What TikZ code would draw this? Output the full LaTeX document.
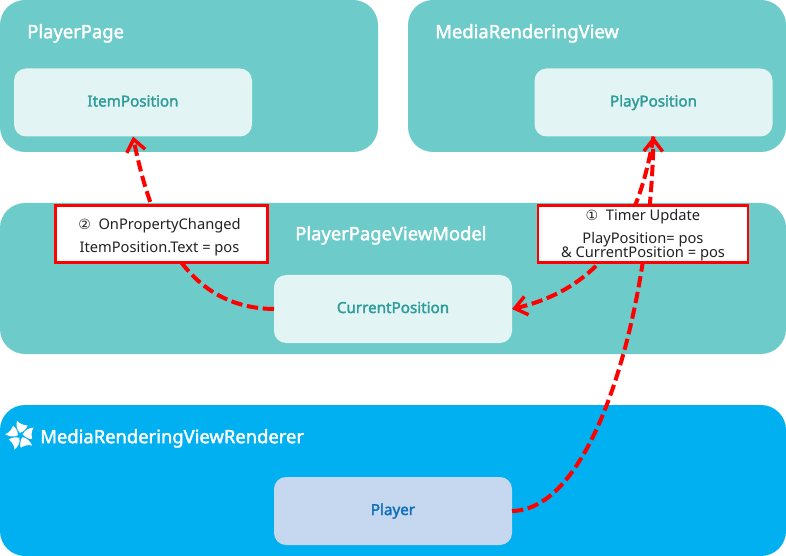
\documentclass[tikz,border=0pt]{standalone}
\usepackage{fontspec}
\setmainfont{Noto Sans}
\newfontfamily\symfont{DejaVu Sans}
\newfontfamily\heavy[FakeBold=2]{Noto Sans}
\usetikzlibrary{arrows.meta}
\definecolor{tealbg}{HTML}{6DCBCA}
\definecolor{lightbox}{HTML}{E2F4F4}
\definecolor{tealtxt}{HTML}{2E9C9A}
\definecolor{bluebg}{HTML}{00B0F0}
\definecolor{playerbox}{HTML}{C5D8F0}
\definecolor{playertxt}{HTML}{0F6FB8}
\definecolor{note}{HTML}{222222}
\tikzset{
  panel/.style={fill=#1,rounded corners=18.75pt,inner sep=0pt,outer sep=0pt},
  innerbox/.style={fill=#1,rounded corners=9pt,inner sep=0pt,outer sep=0pt,minimum width=178.5pt,minimum height=51pt,text height=8.5pt,text depth=2.5pt,font=\heavy\fontsize{11.4}{13}\selectfont},
  title/.style={text=white,font=\heavy\fontsize{13.8}{15}\selectfont,inner sep=0pt,anchor=west,text height=10pt,text depth=3pt},
  notebox/.style={draw=red,line width=2.2pt,fill=white,inner sep=0pt,outer sep=0pt,minimum height=42.5pt,align=center,text=note,font=\fontsize{11}{13}\selectfont},
  flow/.style={draw=red,line width=3pt,dash pattern=on 8.5pt off 3.5pt},
  flowtip/.style={flow,-{Straight Barb[length=9pt,width=14pt,line width=2.6pt]}},
  petal/.style={fill=white,draw=none}
}
\begin{document}
\begin{tikzpicture}[x=0.75pt,y=-0.75pt]
\useasboundingbox (0,0) rectangle (786,556);
% panels
\fill[panel=tealbg] (0,0) rectangle (378,152);
\fill[panel=tealbg] (408,0) rectangle (786,152);
\fill[panel=tealbg] (0,203) rectangle (786,354);
\fill[panel=bluebg] (0,405) rectangle (786,556);
% inner boxes
\node[innerbox=lightbox,text=tealtxt] (item) at (133,102.5) {ItemPosition};
\node[innerbox=lightbox,text=tealtxt] (play) at (653.5,102.5) {PlayPosition};
\node[innerbox=lightbox,text=tealtxt] (curr) at (393,309) {CurrentPosition};
\node[innerbox=playerbox,text=playertxt] (player) at (393,511) {Player};
% titles
\node[title] (t1) at (27,33.5) {PlayerPage};
\node[title] (t2) at (435,33.5) {MediaRenderingView};
\node[title] (t3) at (295,235.5) {PlayerPageViewModel};
\node[title] (t4) at (40,438.5) {MediaRenderingViewRenderer};
% connectors
\draw[flowtip] (player.east) .. controls (595,510) and (650,310) .. (play.south);
\draw[flowtip] (play.south) .. controls (642,205) and (615,285) .. (curr.east);
\draw[flowtip] (curr.west) .. controls (195,308) and (155,245) .. (item.south);
% notes
\node[notebox,minimum width=159.5pt] (n2) at (161.5,234) {\rule{0pt}{13pt}{\symfont\fontsize{10.5}{13}\selectfont ②}\ \ OnPropertyChanged\hspace*{3pt}\\[4.5pt]ItemPosition.Text = pos\hspace*{3pt}};
\node[notebox,minimum width=157.5pt,font=\fontsize{11}{12}\selectfont] (n1) at (643,234) {\rule{0pt}{10.5pt}{\symfont\fontsize{10.5}{12}\selectfont ①}\ \ Timer Update\\[5pt]PlayPosition= pos\\[-1pt]\& CurrentPosition = pos};
% logo
\begin{scope}[shift={(20.5,435.5)}]
\foreach \a in {0,72,144,216,288}{
  \fill[petal,rotate=\a] (-0.5,-2.5) .. controls (-4,-6) and (-4.5,-10) .. (-3.5,-15) .. controls (-1,-11.5) and (3,-10.5) .. (7,-10) .. controls (6,-7) and (3.5,-4) .. (-0.5,-2.5) -- cycle;
}
\end{scope}
\end{tikzpicture}
\end{document}
